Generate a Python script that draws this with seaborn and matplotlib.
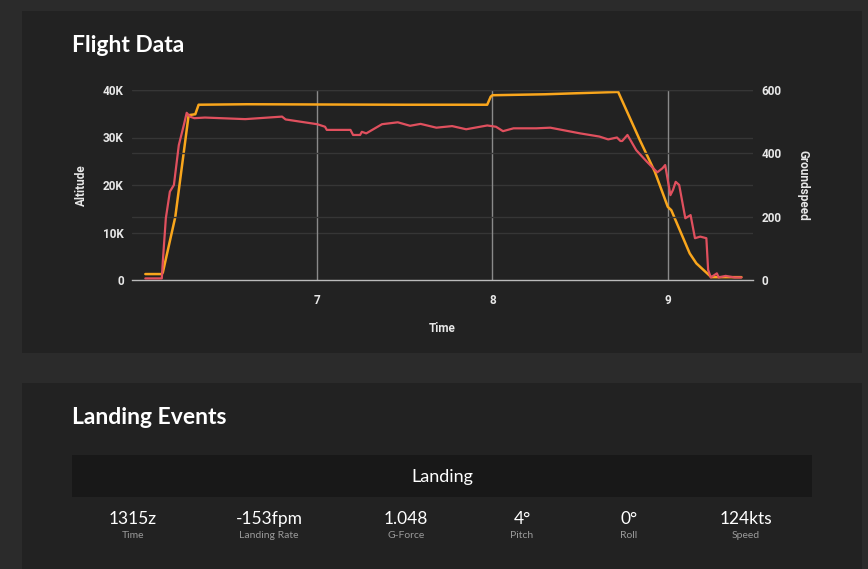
import matplotlib
matplotlib.use("Agg")
import matplotlib.pyplot as plt
import seaborn as sns
import pandas as pd
from matplotlib.patches import Rectangle

# ---- data ----
alt_time = [6.02, 6.114, 6.12, 6.191, 6.267, 6.305, 6.324, 6.60, 7.00, 7.50, 7.97, 7.99, 8.00,
            8.30, 8.717, 8.84, 8.926, 9.00, 9.02, 9.125, 9.163, 9.248, 9.30, 9.42]
altitude = [1250, 1250, 1600, 13300, 34700, 34900, 36900, 37000, 36950, 36900, 36900, 38600, 38900,
            39100, 39600, 29500, 22800, 15400, 14700, 5600, 3500, 600, 600, 600]

gs_time = [6.02, 6.114, 6.12, 6.137, 6.16, 6.183, 6.211, 6.24, 6.256, 6.274, 6.30, 6.36, 6.59, 6.80,
           6.82, 7.00, 7.045, 7.055, 7.19, 7.205, 7.245, 7.255, 7.28, 7.37, 7.46, 7.53, 7.59, 7.68,
           7.77, 7.85, 7.97, 8.02, 8.06, 8.12, 8.25, 8.33, 8.50, 8.61, 8.66, 8.71, 8.73, 8.74, 8.77,
           8.82, 8.88, 8.94, 8.97, 8.985, 9.015, 9.03, 9.045, 9.065, 9.10, 9.13, 9.155, 9.185, 9.22,
           9.23, 9.245, 9.28, 9.29, 9.33, 9.38, 9.42]
groundspeed = [5, 5, 60, 195, 279, 300, 426, 490, 528, 516, 511, 513, 508, 516, 507, 492, 484,
               474, 474, 458, 458, 468, 463, 492, 498, 487, 493, 481, 486, 476, 488, 484, 470, 479,
               479, 481, 463, 453, 444, 450, 439, 439, 458, 410, 374, 340, 353, 363, 268, 285, 310,
               300, 195, 205, 132, 137, 132, 32, 8, 21, 8, 13, 8, 8]

x_ticks = [7, 8, 9]
alt_ticks = [0, 10000, 20000, 30000, 40000]
alt_labels = ["0", "10K", "20K", "30K", "40K"]
gs_ticks = [0, 200, 400, 600]

stat_values = ["1315z", "-153fpm", "1.048", "4°", "0°", "124kts"]
stat_labels = ["Time", "Landing Rate", "G-Force", "Pitch", "Roll", "Speed"]

# ---- style ----
sns.set_theme(style="dark")
plt.rcParams["font.family"] = ["Lato", "DejaVu Sans"]

BG = "#2b2b2b"
PANEL = "#222222"
ORANGE = "#f9a61c"
RED = "#e0505e"
GRID = "#363636"
TICKFONT = ["Roboto", "DejaVu Sans"]

W, H = 868, 569
fig = plt.figure(figsize=(W / 100, H / 100), dpi=100)
fig.patch.set_facecolor(BG)

def rect(x0, y0, x1, y1, color):
    fig.patches.append(Rectangle((x0 / W, 1 - y1 / H), (x1 - x0) / W, (y1 - y0) / H,
                                 transform=fig.transFigure, facecolor=color, edgecolor="none",
                                 zorder=-10))

rect(22, 11, 862, 353, PANEL)
rect(22, 383, 862, 575, PANEL)
rect(72, 455, 812, 497, "#181818")

# ---- chart ----
L, R, T, B = 132, 753, 90, 280
ax = fig.add_axes([L / W, 1 - B / H, (R - L) / W, (B - T) / H])
ax.set_facecolor(PANEL)
ax2 = ax.twinx()

df_alt = pd.DataFrame({"Time": alt_time, "Altitude": altitude})
df_gs = pd.DataFrame({"Time": gs_time, "Groundspeed": groundspeed})

sns.lineplot(data=df_alt, x="Time", y="Altitude", ax=ax, color=ORANGE, linewidth=1.8,
             estimator=None, sort=False, zorder=3)
sns.lineplot(data=df_gs, x="Time", y="Groundspeed", ax=ax2, color=RED, linewidth=1.6,
             estimator=None, sort=False)

ax.set_xlim(5.944, 9.486)
ax.set_ylim(0, 40000)
ax2.set_ylim(0, 600)

ax.set_xticks(x_ticks)
ax.set_xticklabels([str(t) for t in x_ticks])
ax.set_yticks(alt_ticks)
ax.set_yticklabels(alt_labels)
ax2.set_yticks(gs_ticks)
ax2.set_yticklabels([str(v) for v in gs_ticks])

ax.grid(False)
ax2.grid(False)
for v in alt_ticks[1:]:
    ax.axhline(v, color=GRID, lw=1, zorder=0)
for v in gs_ticks[1:]:
    ax2.axhline(v, color=GRID, lw=1, zorder=0)
for t in x_ticks:
    ax.axvline(t, color="#8a8a8a", lw=1, zorder=1)

for a in (ax, ax2):
    for s in a.spines.values():
        s.set_visible(False)
    a.tick_params(length=0, colors="#e8e8e8", labelsize=8.5)
ax.spines["bottom"].set_visible(True)
ax.spines["bottom"].set_color("#bbbbbb")
ax.spines["bottom"].set_linewidth(1)
ax.tick_params(axis="x", pad=10)
ax.tick_params(axis="y", pad=6)
ax2.tick_params(axis="y", pad=6)

ax.set_xlabel("Time", color="#e8e8e8", fontsize=8.5, fontweight="bold", labelpad=11,
              family=TICKFONT)
ax.set_ylabel("Altitude", color="#e8e8e8", fontsize=8.5, fontweight="bold", labelpad=11,
              family=TICKFONT)
ax2.set_ylabel("Groundspeed", color="#e8e8e8", fontsize=8.5, fontweight="bold",
               rotation=270, labelpad=20, family=TICKFONT)
for lab in ax.get_xticklabels() + ax.get_yticklabels() + ax2.get_yticklabels():
    lab.set_fontweight("bold")
    lab.set_family(TICKFONT)

# ---- text ----
def ftext(x, y, s, **kw):
    fig.text(x / W, 1 - y / H, s, **kw)

ftext(72, 46, "Flight Data", color="white", fontsize=16.5, fontweight="bold", va="center")
ftext(72, 418, "Landing Events", color="white", fontsize=16.5, fontweight="bold", va="center")
ftext(442, 477, "Landing", color="white", fontsize=13, ha="center", va="center")

centers = [133, 269, 406, 522, 629, 746]
for cx, v, l in zip(centers, stat_values, stat_labels):
    ftext(cx, 519, v, color="white", fontsize=12.5, ha="center", va="center")
    ftext(cx, 536, l, color="#9a9a9a", fontsize=7.5, ha="center", va="center")

fig.savefig("out.png", dpi=100, facecolor=BG)
